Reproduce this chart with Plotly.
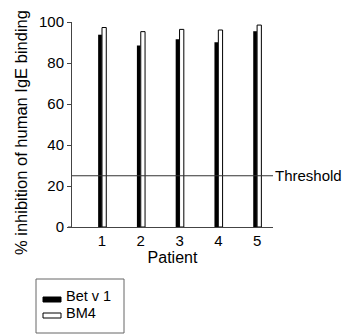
import plotly.graph_objects as go

patients = [1, 2, 3, 4, 5]
tick_labels = ["1", "2", "3", "4", "5"]
bet_v1 = [93.8, 88.5, 91.6, 90.1, 95.5]
bm4 = [97.3, 95.3, 96.4, 96.1, 98.5]
series_names = ["Bet v 1", "BM4"]
threshold = 25
threshold_label = "Threshold"
y_ticks = [0, 20, 40, 60, 80, 100]

FONT = "Liberation Sans, Arial, sans-serif"
W, H = 345, 335
L, T = 72, 22
pw, ph = 201, 205
R, B = W - L - pw, H - T - ph

xr = [0.226, 5.41]


def px_x(p):
    return (p - L) / pw


def px_y(p):
    return (H - B - p) / ph


fig = go.Figure()
fig.add_trace(go.Bar(x=patients, y=bet_v1, name=series_names[0], width=0.095, offset=-0.1,
                     marker=dict(color="black", line=dict(color="black", width=0)), showlegend=False))
fig.add_trace(go.Bar(x=patients, y=bm4, name=series_names[1], width=0.11, offset=0.0,
                     marker=dict(color="white", line=dict(color="black", width=1)), showlegend=False))
fig.add_trace(go.Scatter(x=xr, y=[threshold, threshold], mode="lines",
                         line=dict(color="#333", width=1), showlegend=False, cliponaxis=False))

fig.add_annotation(x=xr[1], y=threshold, xref="x", yref="y", text=threshold_label, showarrow=False,
                   xanchor="left", yanchor="middle", xshift=0, font=dict(family=FONT, size=15, color="black"))

# y title
fig.add_annotation(x=px_x(21), y=px_y(133), xref="paper", yref="paper",
                   text="% inhibition of human IgE binding", textangle=-90, showarrow=False,
                   xanchor="center", yanchor="middle",
                   font=dict(family=FONT, size=16.5, color="black"))

# manual legend
shapes = []
shapes.append(dict(type="rect", xref="paper", yref="paper", x0=px_x(36), x1=px_x(124), y0=px_y(333), y1=px_y(279),
                   line=dict(color="#666", width=1), fillcolor="white"))
shapes.append(dict(type="rect", xref="paper", yref="paper", x0=px_x(43), x1=px_x(61), y0=px_y(302), y1=px_y(297),
                   line=dict(color="black", width=1), fillcolor="black"))
shapes.append(dict(type="rect", xref="paper", yref="paper", x0=px_x(43), x1=px_x(61), y0=px_y(318), y1=px_y(313),
                   line=dict(color="black", width=1), fillcolor="white"))
# x-axis line stub extending slightly left of the y axis, as in the reference
shapes.append(dict(type="line", xref="paper", yref="paper", x0=px_x(68), x1=px_x(72), y0=0, y1=0,
                   line=dict(color="#444", width=1)))
fig.add_annotation(x=px_x(65), y=px_y(296), xref="paper", yref="paper", text=series_names[0], showarrow=False,
                   xanchor="left", yanchor="middle", borderpad=0, font=dict(family=FONT, size=14.5, color="black"))
fig.add_annotation(x=px_x(65), y=px_y(313), xref="paper", yref="paper", text=series_names[1], showarrow=False,
                   xanchor="left", yanchor="middle", borderpad=0, font=dict(family=FONT, size=14.5, color="black"))

fig.update_layout(
    width=W, height=H, margin=dict(l=L, r=R, t=T, b=B),
    plot_bgcolor="white", paper_bgcolor="white", shapes=shapes,
    font=dict(family=FONT, size=15, color="black"),
    xaxis=dict(range=xr, tickvals=patients, ticktext=tick_labels, showgrid=False, zeroline=False,
               showline=True, linecolor="#444", linewidth=1, ticks="", tickfont=dict(size=15),
               title=dict(text="Patient", font=dict(size=16), standoff=0)),
    yaxis=dict(range=[0, 100], tickvals=y_ticks, showgrid=False, zeroline=False,
               showline=True, linecolor="#444", linewidth=1, ticks="outside", ticklen=4, tickcolor="#444",
               tickfont=dict(size=15)),
)

fig.write_html(
    "out.html",
    config={"displayModeBar": False, "staticPlot": True},
    post_script="document.body.style.margin='0';document.documentElement.style.overflow='hidden';",
)
